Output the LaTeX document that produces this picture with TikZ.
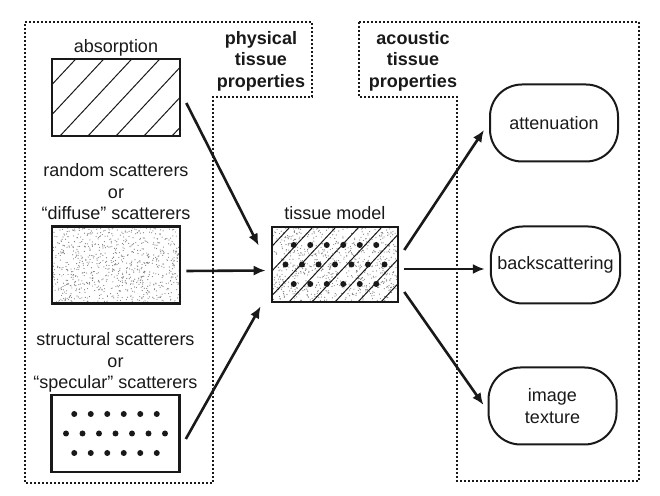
\documentclass[tikz,border=0pt]{standalone}
\usepackage{fontspec}
\setmainfont{Liberation Sans}
\usetikzlibrary{positioning, arrows.meta}

\definecolor{ink}{RGB}{25,25,25}

% fillings for the sample boxes (used inside path picture)
\newcommand{\speckle}[1]{%
  \foreach \i in {1,...,#1}
    \fill[black!50] ([shift={(rand*66,rand*40)}]path picture bounding box.center) circle (0.3pt);}
\newcommand{\hatchlines}[1]{%
  \foreach \k in {-6,...,4}
    \draw[line width=0.5pt] ([xshift=\k*#1]path picture bounding box.south) -- ++(-47:200);}
\newcommand{\dotgrid}{%
  \foreach \row/\n/\off in {-19.5/5/2.5, 0/6/3, 19.5/5/2.5}
    \foreach \k in {0,...,\n}
      \fill ([shift={({(\k-\off)*16.5},\row)}]path picture bounding box.center) circle (1.5pt);}

\tikzset{
  sample/.style={draw, line width=1.3pt, minimum width=64pt, minimum height=38.5pt, inner sep=0pt},
  result/.style={draw, line width=1pt, rounded corners=16pt, minimum width=64pt, minimum height=38.5pt, align=center},
  group/.style={line width=0.6pt, dash pattern=on 1pt off 1pt},
  grouptitle/.style={align=center, font=\fontsize{9}{10.8}\selectfont\bfseries},
  flow/.style={-{Latex[length=6pt,width=5pt]}, line width=1.3pt}
}

\begin{document}
\begin{tikzpicture}[x=0.5pt, y=-0.5pt, font=\fontsize{9}{10.8}\selectfont, color=ink]
\pgfmathsetseed{7}
\useasboundingbox (0,0) rectangle (660,496);

% physical properties
\node[sample, path picture={\hatchlines{14pt}}] (absorption) at (116,97.5) {};
\node[above=-3pt of absorption] (absorption-txt) {absorption};
\node[sample, path picture={\speckle{900}}] (random) at (116,265) {};
\node[above=-1pt of random, align=center] (random-txt) {random scatterers\\or\\“diffuse” scatterers};
\node[sample, path picture={\dotgrid}] (structural) at (115.5,433.5) {};
\node[above=-3pt of structural, align=center] (structural-txt) {structural scatterers\\or\\“specular” scatterers};

% the combined model
\node[sample, minimum width=63pt, minimum height=37.5pt,
  path picture={\speckle{900}\hatchlines{11.5pt}\dotgrid}] (tissue) at (335,264.5) {};
\node[above=-0.5pt of tissue] (tissue-txt) {tissue model};

% acoustic properties
\node[result] (attenuation) at (554,123) {attenuation};
\node[result] (backscattering) at (555.5,265) {backscattering};
\node[result] (texture) at (552.5,406) {image\\texture};

% dotted groups with their titles
\node[grouptitle] (physical) at (261,61) {physical\\tissue\\properties};
\node[grouptitle] (acoustic) at (413,61) {acoustic\\tissue\\properties};
\draw[group] (25,22) -- (312,22) -- (312,97) -- (213,97) -- (213,483) -- (25,483) -- cycle;
\draw[group] (359,22) -- (639,22) -- (639,481) -- (457,481) -- (457,97) -- (359,97) -- cycle;

% arrows
\draw[flow] ([shift={(5,5.5)}]absorption.east) -- ([shift={(-12,20)}]tissue.north west);
\draw[flow] ([shift={(5,6)}]random.east) -- ([shift={(-5,6)}]tissue.west);
\draw[flow] ([shift={(5,5.5)}]structural.east) -- ([shift={(-10,3)}]tissue.south west);
\draw[flow] ([shift={(5,-14.5)}]tissue.east) -- ([shift={(-5,7)}]attenuation.west);
\draw[flow] ([shift={(5,4.5)}]tissue.east) -- ([shift={(-5,4)}]backscattering.west);
\draw[flow] ([shift={(5,27.5)}]tissue.east) -- ([shift={(-4,-1)}]texture.west);
\end{tikzpicture}
\end{document}
